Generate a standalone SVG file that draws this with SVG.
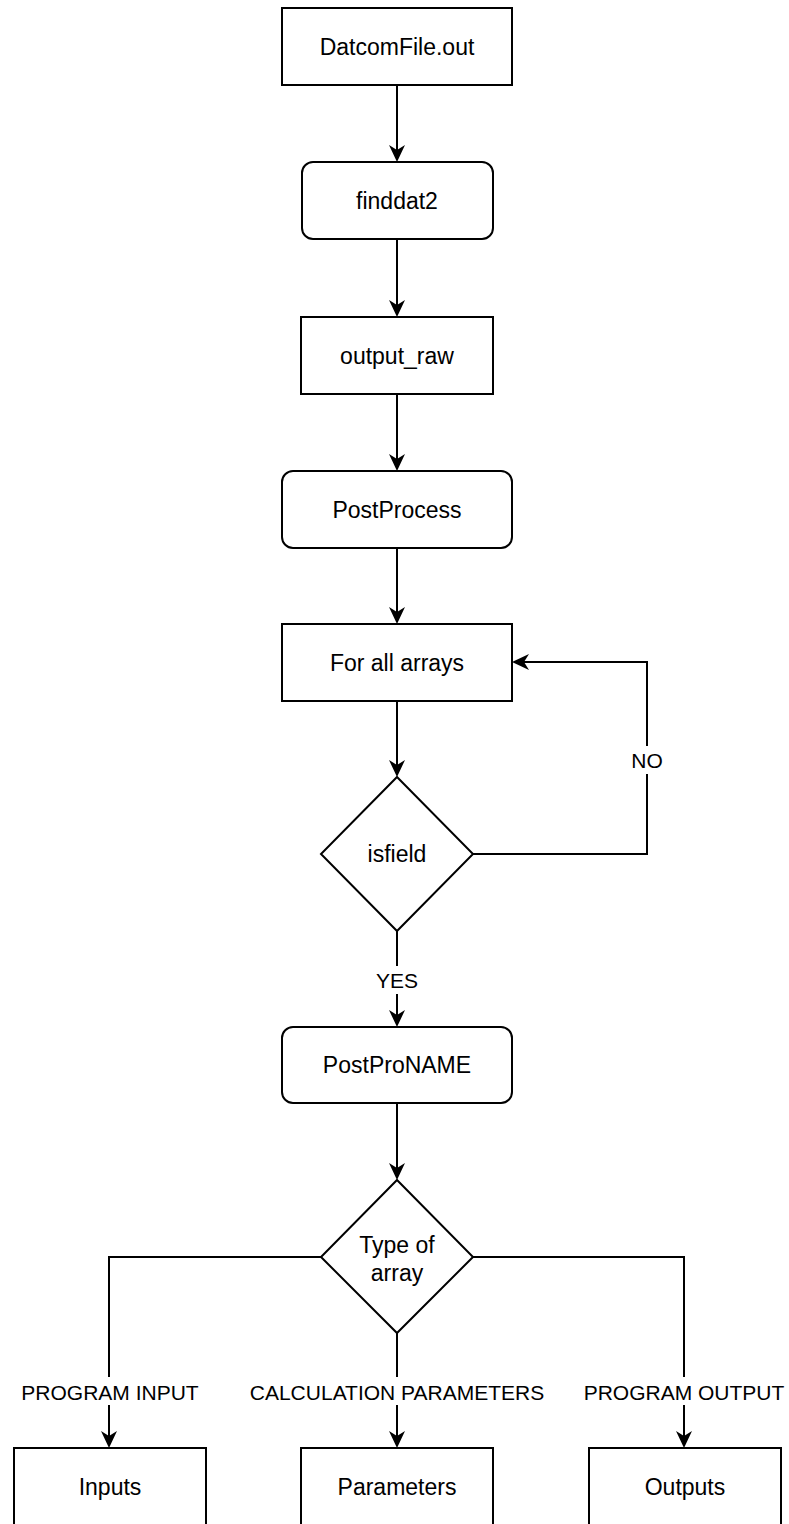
<svg xmlns="http://www.w3.org/2000/svg" width="789" height="1524" viewBox="0 0 789 1524">
  <style>
    .shape { fill: #ffffff; stroke: #000000; stroke-width: 2; }
    .edge { fill: none; stroke: #000000; stroke-width: 2; }
    .txt { font-family: "Liberation Sans", Arial, sans-serif; font-size: 23px; fill: #000000; text-anchor: middle; }
    .lbl { font-family: "Liberation Sans", Arial, sans-serif; font-size: 21px; fill: #000000; text-anchor: middle; }
    .lblbg { fill: #ffffff; stroke: none; }
  </style>
  <defs>
    <marker id="arrow" markerUnits="userSpaceOnUse" markerWidth="17" markerHeight="16" viewBox="0 0 17 16" refX="12" refY="8" orient="auto">
      <path d="M0,0 L17,8 L0,16 L5,8 Z" fill="#000000" stroke="none"/>
    </marker>
  </defs>

  <rect width="789" height="1524" fill="#ffffff"/>

  <!-- connectors -->
  <g id="connectors">
    <path class="edge" d="M397,85 V157" marker-end="url(#arrow)"/>
    <path class="edge" d="M397,239 V312" marker-end="url(#arrow)"/>
    <path class="edge" d="M397,394 V466" marker-end="url(#arrow)"/>
    <path class="edge" d="M397,548 V619" marker-end="url(#arrow)"/>
    <path class="edge" d="M397,701 V772" marker-end="url(#arrow)"/>
    <!-- NO loop back to the array iterator -->
    <path class="edge" d="M473,854 H647 V662 H517" marker-end="url(#arrow)"/>
    <rect class="lblbg" x="628" y="746" width="38" height="28"/>
    <text class="lbl" x="647" y="768">NO</text>
    <!-- YES -->
    <path class="edge" d="M397,931 V1022" marker-end="url(#arrow)"/>
    <rect class="lblbg" x="374" y="966" width="46" height="28"/>
    <text class="lbl" x="397" y="988">YES</text>
    <path class="edge" d="M397,1103 V1175" marker-end="url(#arrow)"/>
    <!-- type branches -->
    <path class="edge" d="M321,1257 H109 V1443" marker-end="url(#arrow)"/>
    <rect class="lblbg" x="20" y="1377" width="180" height="28"/>
    <text class="lbl" x="110" y="1400">PROGRAM INPUT</text>
    <path class="edge" d="M397,1333 V1443" marker-end="url(#arrow)"/>
    <rect class="lblbg" x="248" y="1377" width="298" height="28"/>
    <text class="lbl" x="397" y="1400">CALCULATION PARAMETERS</text>
    <path class="edge" d="M473,1257 H684 V1443" marker-end="url(#arrow)"/>
    <rect class="lblbg" x="584" y="1377" width="201" height="28"/>
    <text class="lbl" x="684" y="1400">PROGRAM OUTPUT</text>
  </g>

  <!-- nodes -->
  <g id="datcom-file">
    <rect class="shape" x="282" y="8" width="230" height="77"/>
    <text class="txt" x="397" y="55">DatcomFile.out</text>
  </g>
  <g id="finddat2">
    <rect class="shape" x="302" y="162" width="191" height="77" rx="11" ry="11"/>
    <text class="txt" x="397" y="209">finddat2</text>
  </g>
  <g id="output-raw">
    <rect class="shape" x="301" y="317" width="192" height="77"/>
    <text class="txt" x="397" y="364">output_raw</text>
  </g>
  <g id="postprocess">
    <rect class="shape" x="282" y="471" width="230" height="77" rx="11" ry="11"/>
    <text class="txt" x="397" y="518">PostProcess</text>
  </g>
  <g id="for-all-arrays">
    <rect class="shape" x="282" y="624" width="230" height="77"/>
    <text class="txt" x="397" y="671">For all arrays</text>
  </g>
  <g id="isfield">
    <polygon class="shape" points="397,777 473,854 397,931 321,854"/>
    <text class="txt" x="397" y="862">isfield</text>
  </g>
  <g id="postproname">
    <rect class="shape" x="282" y="1027" width="230" height="76" rx="11" ry="11"/>
    <text class="txt" x="397" y="1073">PostProNAME</text>
  </g>
  <g id="type-of-array">
    <polygon class="shape" points="397,1180 473,1257 397,1333 321,1257"/>
    <text class="txt" x="397" y="1253">Type of</text>
    <text class="txt" x="397" y="1281">array</text>
  </g>
  <g id="inputs">
    <rect class="shape" x="14" y="1448" width="192" height="77"/>
    <text class="txt" x="110" y="1495">Inputs</text>
  </g>
  <g id="parameters">
    <rect class="shape" x="301" y="1448" width="192" height="77"/>
    <text class="txt" x="397" y="1495">Parameters</text>
  </g>
  <g id="outputs">
    <rect class="shape" x="589" y="1448" width="192" height="77"/>
    <text class="txt" x="685" y="1495">Outputs</text>
  </g>
</svg>
